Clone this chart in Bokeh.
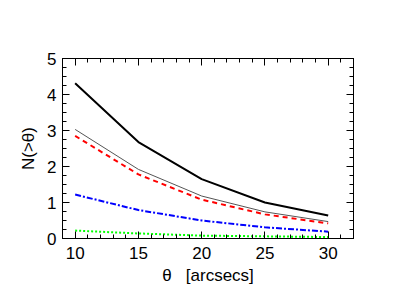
from bokeh.plotting import figure
from bokeh.models import LinearAxis, Range1d, SingleIntervalTicker
from bokeh.embed import file_html
from bokeh.resources import INLINE

theta = [10, 15, 20, 25, 30]
total = [4.31, 2.68, 1.65, 1.00, 0.64]
thin_gray = [3.03, 1.92, 1.18, 0.74, 0.47]
red_dashed = [2.85, 1.78, 1.08, 0.67, 0.42]
blue_dashdot = [1.22, 0.79, 0.50, 0.31, 0.19]
green_dotted = [0.22, 0.14, 0.08, 0.06, 0.04]

FONT = "Liberation Sans"

p = figure(width=399, height=297, output_backend="svg", toolbar_location=None,
           x_range=Range1d(9, 32), y_range=Range1d(0, 5),
           min_border_left=62, min_border_right=46, min_border_top=58, min_border_bottom=59)
p.background_fill_color = "white"
p.border_fill_color = "white"
p.outline_line_color = "black"
p.outline_line_width = 1
p.xgrid.visible = False
p.ygrid.visible = False

p.line(theta, total, line_color="black", line_width=2)
p.line(theta, thin_gray, line_color="#555555", line_width=1)
p.line(theta, red_dashed, line_color="red", line_width=2, line_dash="5 4")
p.line(theta, blue_dashdot, line_color="blue", line_width=2, line_dash="6 2 2 2")
p.line(theta, green_dotted, line_color="#00ff00", line_width=2, line_dash="2 2")

def style(ax, labels=True):
    ax.major_tick_in = 7
    ax.major_tick_out = 0
    ax.minor_tick_in = 4
    ax.minor_tick_out = 0
    ax.axis_line_color = "black"
    ax.major_tick_line_color = "black"
    ax.minor_tick_line_color = "black"
    ax.major_label_text_font = FONT
    ax.major_label_text_font_size = "17px"
    ax.major_label_text_color = "black" if labels else None
    ax.axis_label_text_font = FONT
    ax.axis_label_text_font_size = "17px"
    ax.axis_label_text_font_style = "normal"
    ax.axis_label_text_color = "black"
    ax.major_label_standoff = 6

p.xaxis.ticker = SingleIntervalTicker(interval=5, num_minor_ticks=5)
p.yaxis.ticker = SingleIntervalTicker(interval=1, num_minor_ticks=4)
style(p.xaxis[0])
style(p.yaxis[0])
p.xaxis[0].major_label_standoff = 8
p.xaxis.axis_label = "θ\u00a0\u00a0\u00a0[arcsecs]"
p.yaxis.axis_label = "N(>θ)"
p.xaxis.axis_label_standoff = 4
p.yaxis.axis_label_standoff = 6

top = LinearAxis(ticker=SingleIntervalTicker(interval=5, num_minor_ticks=5))
style(top, labels=False)
p.add_layout(top, "above")
right = LinearAxis(ticker=SingleIntervalTicker(interval=1, num_minor_ticks=4))
style(right, labels=False)
p.add_layout(right, "right")

open("out.html", "w").write(file_html(p, INLINE))
